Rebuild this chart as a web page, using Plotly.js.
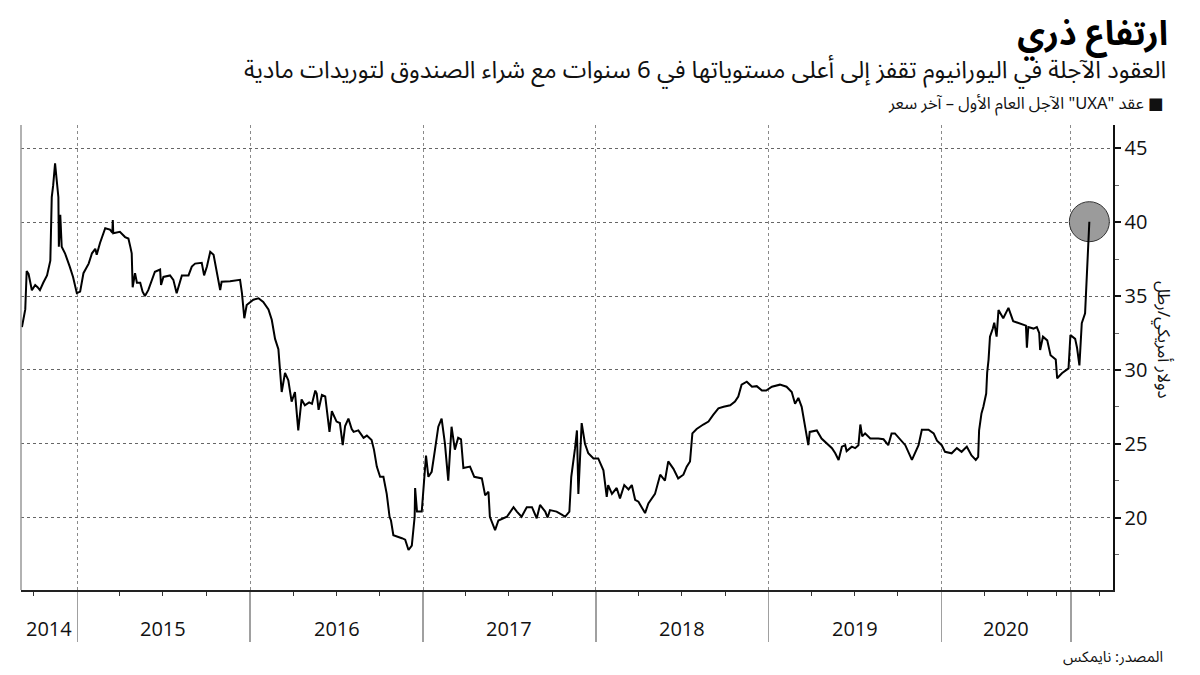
<!DOCTYPE html>
<html>
<head>
<meta charset="utf-8">
<script src="https://cdn.plot.ly/plotly-3.0.1.min.js"></script>
<style>html,body{margin:0;padding:0;background:#fff}#chart{width:1200px;height:675px}</style>
</head>
<body>
<div id="chart"></div>
<script>
// UXA first-year futures, last price (USD/lb)
const dates = [
'2014-09-06','2014-09-13','2014-09-16','2014-09-20','2014-09-27','2014-10-04','2014-10-09','2014-10-14','2014-10-21','2014-10-29',
'2014-11-05','2014-11-08','2014-11-11','2014-11-15','2014-11-18','2014-11-22','2014-11-23','2014-11-26','2014-11-29','2014-12-06',
'2014-12-16','2014-12-23','2014-12-31',
'2015-01-07','2015-01-14','2015-01-25','2015-02-01','2015-02-08','2015-02-11','2015-02-18','2015-03-01','2015-03-11','2015-03-16',
'2015-03-17','2015-03-18','2015-04-01','2015-04-12','2015-04-19','2015-04-23','2015-04-26','2015-04-28','2015-05-03','2015-05-07',
'2015-05-14','2015-05-19','2015-05-24','2015-05-31','2015-06-08','2015-06-14','2015-06-25','2015-06-27','2015-07-02','2015-07-16',
'2015-07-23','2015-07-30','2015-08-10','2015-08-24','2015-08-31','2015-09-07','2015-09-21','2015-09-26','2015-10-02','2015-10-09',
'2015-10-16','2015-10-23','2015-10-30','2015-11-02','2015-11-20','2015-12-11','2015-12-15','2015-12-20','2015-12-25',
'2016-01-08','2016-01-19','2016-01-29','2016-02-09','2016-02-16','2016-02-23','2016-03-01','2016-03-08','2016-03-15','2016-03-22',
'2016-03-29','2016-04-05','2016-04-12','2016-04-19','2016-04-26','2016-05-05','2016-05-11','2016-05-18','2016-05-21','2016-05-25',
'2016-06-01','2016-06-08','2016-06-17','2016-06-22','2016-07-02','2016-07-09','2016-07-15','2016-07-20','2016-07-27','2016-08-03',
'2016-08-07','2016-08-17','2016-08-28','2016-09-04','2016-09-14','2016-09-19','2016-09-25','2016-10-02','2016-10-09','2016-10-16',
'2016-10-22','2016-10-25','2016-10-30','2016-11-10','2016-11-17','2016-11-24','2016-12-01','2016-12-08','2016-12-11','2016-12-14',
'2016-12-15','2016-12-19','2016-12-29',
'2017-01-02','2017-01-07','2017-01-12','2017-01-19','2017-01-26','2017-02-02','2017-02-09','2017-02-16','2017-02-23','2017-03-02',
'2017-03-09','2017-03-16','2017-03-22','2017-03-27','2017-04-10','2017-04-19','2017-05-05','2017-05-12','2017-05-19','2017-05-22',
'2017-06-02','2017-06-09','2017-06-27','2017-07-11','2017-07-18','2017-07-28','2017-08-08','2017-08-19','2017-08-29','2017-09-05',
'2017-09-16','2017-09-21','2017-09-26','2017-10-10','2017-10-21','2017-10-28','2017-11-06','2017-11-10','2017-11-18','2017-11-22',
'2017-11-25','2017-12-02','2017-12-09','2017-12-16','2017-12-27',
'2018-01-06','2018-01-17','2018-01-24','2018-01-27','2018-02-04','2018-02-14','2018-02-21','2018-03-02','2018-03-11','2018-03-18',
'2018-03-25','2018-04-01','2018-04-15','2018-04-22','2018-05-06','2018-05-17','2018-05-27','2018-06-03','2018-06-14','2018-06-24',
'2018-07-05','2018-07-12','2018-07-19','2018-07-24','2018-08-02','2018-08-16','2018-08-27','2018-09-06','2018-09-17','2018-09-28',
'2018-10-12','2018-10-22','2018-10-29','2018-11-05','2018-11-16','2018-11-27','2018-12-07','2018-12-18','2018-12-27',
'2019-01-08','2019-01-25','2019-02-08','2019-02-19','2019-02-26','2019-03-05','2019-03-12','2019-03-19','2019-03-26','2019-03-29',
'2019-04-13','2019-04-23','2019-05-04','2019-05-15','2019-05-22','2019-05-29','2019-06-05','2019-06-12','2019-06-15','2019-06-26',
'2019-07-03','2019-07-10','2019-07-14','2019-07-18','2019-07-24','2019-08-04','2019-08-21','2019-09-01','2019-09-11','2019-09-18',
'2019-09-25','2019-10-06','2019-10-17','2019-10-31','2019-11-07','2019-11-14','2019-11-21','2019-12-05','2019-12-16','2019-12-23',
'2020-01-02','2020-01-09','2020-01-23','2020-02-03','2020-02-13','2020-02-24','2020-03-05','2020-03-14','2020-03-19','2020-03-21',
'2020-03-26','2020-03-30','2020-04-05','2020-04-07','2020-04-10','2020-04-13','2020-04-19','2020-04-22','2020-04-27','2020-05-01',
'2020-05-11','2020-05-22','2020-06-01','2020-06-12','2020-06-24','2020-06-28','2020-06-30','2020-07-03','2020-07-14','2020-07-21',
'2020-07-26','2020-07-28','2020-08-03','2020-08-12','2020-08-19','2020-08-30','2020-09-02','2020-09-12','2020-09-26','2020-09-30',
'2020-10-10','2020-10-14','2020-10-19','2020-10-24','2020-10-31','2020-11-09'
];
const prices = [
32.9,34.1,36.7,36.5,35.4,35.75,35.6,35.4,35.9,36.4,
37.4,41.7,42.5,44.0,43.0,41.7,38.35,40.5,38.35,37.9,
37.0,36.3,35.2,
35.3,36.55,37.2,37.9,38.2,37.8,38.6,39.6,39.5,39.3,
40.15,39.25,39.35,39.0,38.9,38.35,37.9,35.6,36.55,35.9,
35.9,35.3,35.0,35.4,36.1,36.65,36.8,35.75,36.3,36.4,
36.1,35.2,36.4,36.4,37.0,37.2,37.25,36.4,37.0,38.0,
37.8,36.55,35.4,35.97,36.0,36.1,35.2,33.5,34.4,
34.75,34.85,34.6,34.1,33.4,32.1,31.4,28.5,29.8,29.3,
27.85,28.5,25.9,28.0,27.6,27.8,27.7,28.6,28.4,27.3,
28.3,28.2,25.8,27.2,26.5,26.4,24.9,26.2,26.7,26.0,
25.8,25.9,25.4,25.55,25.25,24.6,23.45,22.76,22.76,21.6,
20.05,19.8,18.8,18.7,18.6,18.5,17.8,18.1,19.0,20.05,
22.0,20.4,20.4,
21.9,24.2,22.76,23.1,24.6,26.15,26.7,25.0,22.5,26.15,
24.6,25.4,25.3,23.35,23.45,22.76,22.65,21.5,21.75,20.05,
19.15,19.8,20.05,20.7,20.4,20.05,20.7,20.7,19.95,20.85,
20.4,20.0,20.5,20.4,20.2,20.05,20.4,22.76,24.7,25.9,
21.6,26.4,25.0,24.35,24.0,
24.0,23.2,21.4,22.2,21.6,22.0,21.3,22.2,21.9,22.2,
21.2,21.07,20.3,20.96,21.6,22.9,22.5,23.8,23.3,22.65,
22.9,23.45,23.8,25.7,26.0,26.3,26.5,26.95,27.4,27.5,
27.6,27.85,28.2,29.0,29.2,28.86,28.9,28.6,28.6,
28.86,29.0,28.86,28.5,27.7,28.1,27.5,26.15,24.9,25.8,
25.9,25.35,25.0,24.7,24.35,23.9,24.8,24.9,24.5,24.8,
24.7,24.9,26.3,25.5,25.7,25.35,25.35,25.3,24.9,25.7,
25.7,25.3,24.9,23.9,24.45,24.9,25.95,25.95,25.7,25.2,
24.9,24.45,24.35,24.7,24.45,24.8,24.2,23.9,24.1,25.9,
27.05,27.5,28.4,29.8,30.7,32.25,32.8,33.2,32.25,34.06,
33.5,34.2,33.3,33.16,33.05,33.0,31.5,32.9,32.8,32.9,
32.5,31.35,32.25,32.0,31.0,30.7,29.43,29.77,30.1,32.36,
32.1,31.5,30.3,33.16,33.84,40.04
];

// axis ticks and labels
const yTickVals = [20, 25, 30, 35, 40, 45];
const yMinorVals = [17.5, 22.5, 27.5, 32.5, 37.5, 42.5];
const dividerDates = ['2015-01-01','2016-01-01','2017-01-01','2018-01-01','2019-01-01','2020-01-01','2020-10-01'];
const quarterDates = ['2014-10-01','2015-04-01','2015-07-01','2015-10-01','2016-04-01','2016-07-01','2016-10-01',
  '2017-04-01','2017-07-01','2017-10-01','2018-04-01','2018-07-01','2018-10-01','2019-04-01','2019-07-01','2019-10-01',
  '2020-04-01','2020-07-01','2020-09-01','2020-12-01'];
const yearLabels = ['2014','2015','2016','2017','2018','2019','2020'];
const yearLabelDates = ['2014-11-02','2015-07-02','2016-07-02','2017-07-02','2018-07-02','2019-07-02','2020-05-16'];

const titleText = 'ارتفاع ذري';
const subtitleText = 'العقود الآجلة في اليورانيوم تقفز إلى أعلى مستوياتها في 6 سنوات مع شراء الصندوق لتوريدات مادية';
const legendText = '\u202B■ عقد "UXA" الآجل العام الأول – آخر سعر\u202C';
const yTitleText = 'دولار أمريكي/رطل';
const sourceText = 'المصدر: نايمكس';

const AR = "'Noto Sans Arabic', 'DejaVu Sans', sans-serif";
const NUM = "'Open Sans', 'Noto Sans', sans-serif";

const last = dates.length - 1;
const traces = [
  {x: [dates[last]], y: [prices[last]], type: 'scatter', mode: 'markers', cliponaxis: false,
   marker: {size: 40, color: '#9b9b9b', line: {color: '#333', width: 1}}, hoverinfo: 'skip'},
  {x: dates, y: prices, type: 'scatter', mode: 'lines', cliponaxis: false,
   line: {color: '#000', width: 2}}
];

const annotations = yearLabels.map((t, i) => ({
  text: t, x: yearLabelDates[i], xref: 'x', y: -0.082, yref: 'paper',
  showarrow: false, xanchor: 'center', yanchor: 'middle',
  font: {family: NUM, size: 20, color: '#111'}
}));
annotations.push(
  {text: subtitleText, xref: 'paper', x: 1.0504, xanchor: 'right', yref: 'paper', y: 1.1162, yanchor: 'middle',
   showarrow: false, font: {family: AR, size: 24, color: '#111'}},
  {text: legendText, xref: 'paper', x: 1.0485, xanchor: 'right', yref: 'paper', y: 1.0452, yanchor: 'middle',
   showarrow: false, font: {family: AR, size: 16.5, color: '#111'}},
  {text: yTitleText, xref: 'paper', x: 1.0458, xanchor: 'center', yref: 'paper', y: 0.5376, yanchor: 'middle',
   textangle: 90, showarrow: false, font: {family: AR, size: 17, color: '#111'}},
  {text: sourceText, xref: 'paper', x: 1.0476, xanchor: 'right', yref: 'paper', y: -0.1441, yanchor: 'middle',
   showarrow: false, font: {family: AR, size: 15, color: '#111'}}
);

const layout = {
  width: 1200, height: 675,
  margin: {l: 21, r: 87, t: 125, b: 85, pad: 0},
  paper_bgcolor: '#fff', plot_bgcolor: '#fff',
  showlegend: false,
  title: {text: titleText, xref: 'container', x: 0.9733, xanchor: 'right', yref: 'container', y: 0.951, yanchor: 'middle',
          font: {family: AR, size: 34, color: '#000', weight: 'bold'}},
  xaxis: {
    type: 'date', range: ['2014-09-04', '2020-12-29'], fixedrange: true,
    tickmode: 'array', tickvals: dividerDates, showticklabels: false,
    ticks: 'outside', ticklen: 50, tickcolor: '#a0a0a0', tickwidth: 1.5,
    showgrid: true, gridcolor: '#8a8a8a', griddash: 'dot', gridwidth: 1,
    showline: true, linecolor: '#222', linewidth: 1.5, zeroline: false,
    minor: {tickmode: 'array', tickvals: quarterDates, ticks: 'outside', ticklen: 4, tickcolor: '#333', tickwidth: 1, showgrid: false}
  },
  yaxis: {
    side: 'right', range: [15.09, 46.59], fixedrange: true,
    tickmode: 'array', tickvals: yTickVals,
    ticks: 'outside', ticklen: 6, tickwidth: 2, tickcolor: '#111',
    tickfont: {family: NUM, size: 20, color: '#111'},
    showline: true, linecolor: '#111', linewidth: 1.5,
    showgrid: true, gridcolor: '#666', griddash: 'dot', gridwidth: 1, zeroline: false,
    minor: {tickmode: 'array', tickvals: yMinorVals, ticks: 'outside', ticklen: 4, tickcolor: '#666', tickwidth: 1, showgrid: false}
  },
  shapes: [
    {type: 'line', xref: 'paper', yref: 'paper', x0: 0, x1: 0, y0: 0, y1: 1, line: {color: '#999', width: 1.5}}
  ],
  annotations: annotations
};

Plotly.newPlot('chart', traces, layout, {displayModeBar: false, staticPlot: true});
</script>
</body>
</html>
